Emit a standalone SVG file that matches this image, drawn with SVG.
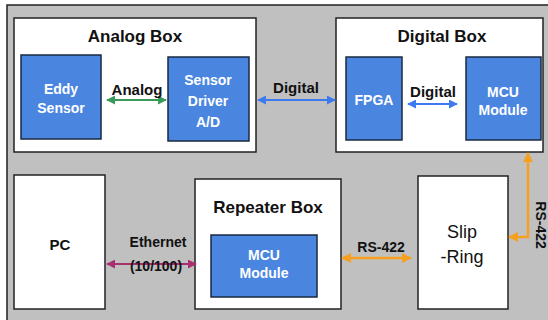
<svg xmlns="http://www.w3.org/2000/svg" width="548" height="320" viewBox="0 0 548 320">
<defs>
<style>
.box{fill:#ffffff;stroke:#222;stroke-width:1.5}
.blk{fill:#4a86e0;stroke:#1a2a40;stroke-width:1.5}
.t{font-family:"Liberation Sans",Arial,sans-serif;font-weight:bold;text-anchor:middle;fill:#111}
.w{font-family:"Liberation Sans",Arial,sans-serif;font-weight:bold;text-anchor:middle;fill:#ffffff;font-size:14px}
.lbl{font-size:15px}
.title{font-size:17px}
</style>
<marker id="ag" viewBox="0 0 10 10" refX="9" refY="5" markerWidth="9" markerHeight="9" markerUnits="userSpaceOnUse" orient="auto-start-reverse"><path d="M0,0 L10,5 L0,10 Z" fill="#3a9a5a"/></marker>
<marker id="ab" viewBox="0 0 10 10" refX="9" refY="5" markerWidth="9" markerHeight="9" markerUnits="userSpaceOnUse" orient="auto-start-reverse"><path d="M0,0 L10,5 L0,10 Z" fill="#3d7af0"/></marker>
<marker id="am" viewBox="0 0 10 10" refX="9" refY="5" markerWidth="9" markerHeight="9" markerUnits="userSpaceOnUse" orient="auto-start-reverse"><path d="M0,0 L10,5 L0,10 Z" fill="#a83070"/></marker>
<marker id="ao" viewBox="0 0 10 10" refX="9" refY="5" markerWidth="10" markerHeight="10" markerUnits="userSpaceOnUse" orient="auto-start-reverse"><path d="M0,0 L10,5 L0,10 Z" fill="#f5a020"/></marker>
</defs>
<rect x="0" y="0" width="548" height="320" fill="#ffffff"/>
<rect x="7" y="5" width="545" height="320" fill="#c0c0c0" stroke="#222" stroke-width="1.5"/>

<g id="analog-box">
<rect class="box" x="14" y="18" width="242" height="134"/>
<text class="t title" x="135" y="42">Analog Box</text>
</g>
<g id="eddy-sensor">
<rect class="blk" x="21" y="55" width="80" height="84"/>
<text class="w" x="61" y="94">Eddy</text>
<text class="w" x="61" y="113">Sensor</text>
</g>
<g id="sensor-driver">
<rect class="blk" x="168" y="57" width="81" height="84"/>
<text class="w" x="208" y="85">Sensor</text>
<text class="w" x="208" y="106">Driver</text>
<text class="w" x="208" y="127">A/D</text>
</g>

<g id="digital-box">
<rect class="box" x="336" y="18" width="207" height="134"/>
<text class="t title" x="442" y="42">Digital Box</text>
</g>
<g id="fpga">
<rect class="blk" x="346" y="57" width="56" height="83"/>
<text class="w" x="374" y="105">FPGA</text>
</g>
<g id="mcu-digital">
<rect class="blk" x="466" y="57" width="75" height="83"/>
<text class="w" x="503" y="97">MCU</text>
<text class="w" x="503" y="115">Module</text>
</g>

<g id="pc">
<rect class="box" x="14" y="175" width="91" height="134"/>
<text class="t lbl" x="60" y="250">PC</text>
</g>

<g id="repeater-box">
<rect class="box" x="195" y="179" width="146" height="130"/>
<text class="t title" x="268" y="213">Repeater Box</text>
</g>
<g id="mcu-repeater">
<rect class="blk" x="211" y="235" width="106" height="62"/>
<text class="w" x="264" y="260">MCU</text>
<text class="w" x="264" y="278">Module</text>
</g>

<g id="slip-ring">
<rect class="box" x="418" y="176" width="90" height="133"/>
<text class="t" style="font-size:18px;font-weight:normal" x="462" y="238">Slip</text>
<text class="t" style="font-size:18px;font-weight:normal" x="462" y="263">-Ring</text>
</g>

<g id="connectors">
<line x1="107" y1="100" x2="166" y2="100" stroke="#3a9a5a" stroke-width="2" marker-start="url(#ag)" marker-end="url(#ag)"/>
<text class="t lbl" x="137" y="95">Analog</text>
<line x1="258" y1="100" x2="335" y2="100" stroke="#3d7af0" stroke-width="2" marker-start="url(#ab)" marker-end="url(#ab)"/>
<text class="t lbl" x="296" y="93">Digital</text>
<line x1="408" y1="104" x2="457" y2="104" stroke="#3d7af0" stroke-width="2" marker-start="url(#ab)" marker-end="url(#ab)"/>
<text class="t lbl" x="433" y="97">Digital</text>
<line x1="107" y1="264" x2="196" y2="264" stroke="#a83070" stroke-width="2" marker-start="url(#am)" marker-end="url(#am)"/>
<text class="t" style="font-size:14px" x="158" y="247">Ethernet</text>
<text class="t" style="font-size:14px" x="156" y="271">(10/100)</text>
<line x1="342" y1="258" x2="411" y2="258" stroke="#f5a020" stroke-width="2.5" marker-start="url(#ao)" marker-end="url(#ao)"/>
<text class="t" style="font-size:14px" x="381" y="252">RS-422</text>
<polyline points="509,237 528,237 528,153" fill="none" stroke="#f5a020" stroke-width="2.5" marker-start="url(#ao)" marker-end="url(#ao)"/>
<text class="t" style="font-size:14px" transform="translate(536,225) rotate(90)" x="0" y="0">RS-422</text>
</g>
</svg>
